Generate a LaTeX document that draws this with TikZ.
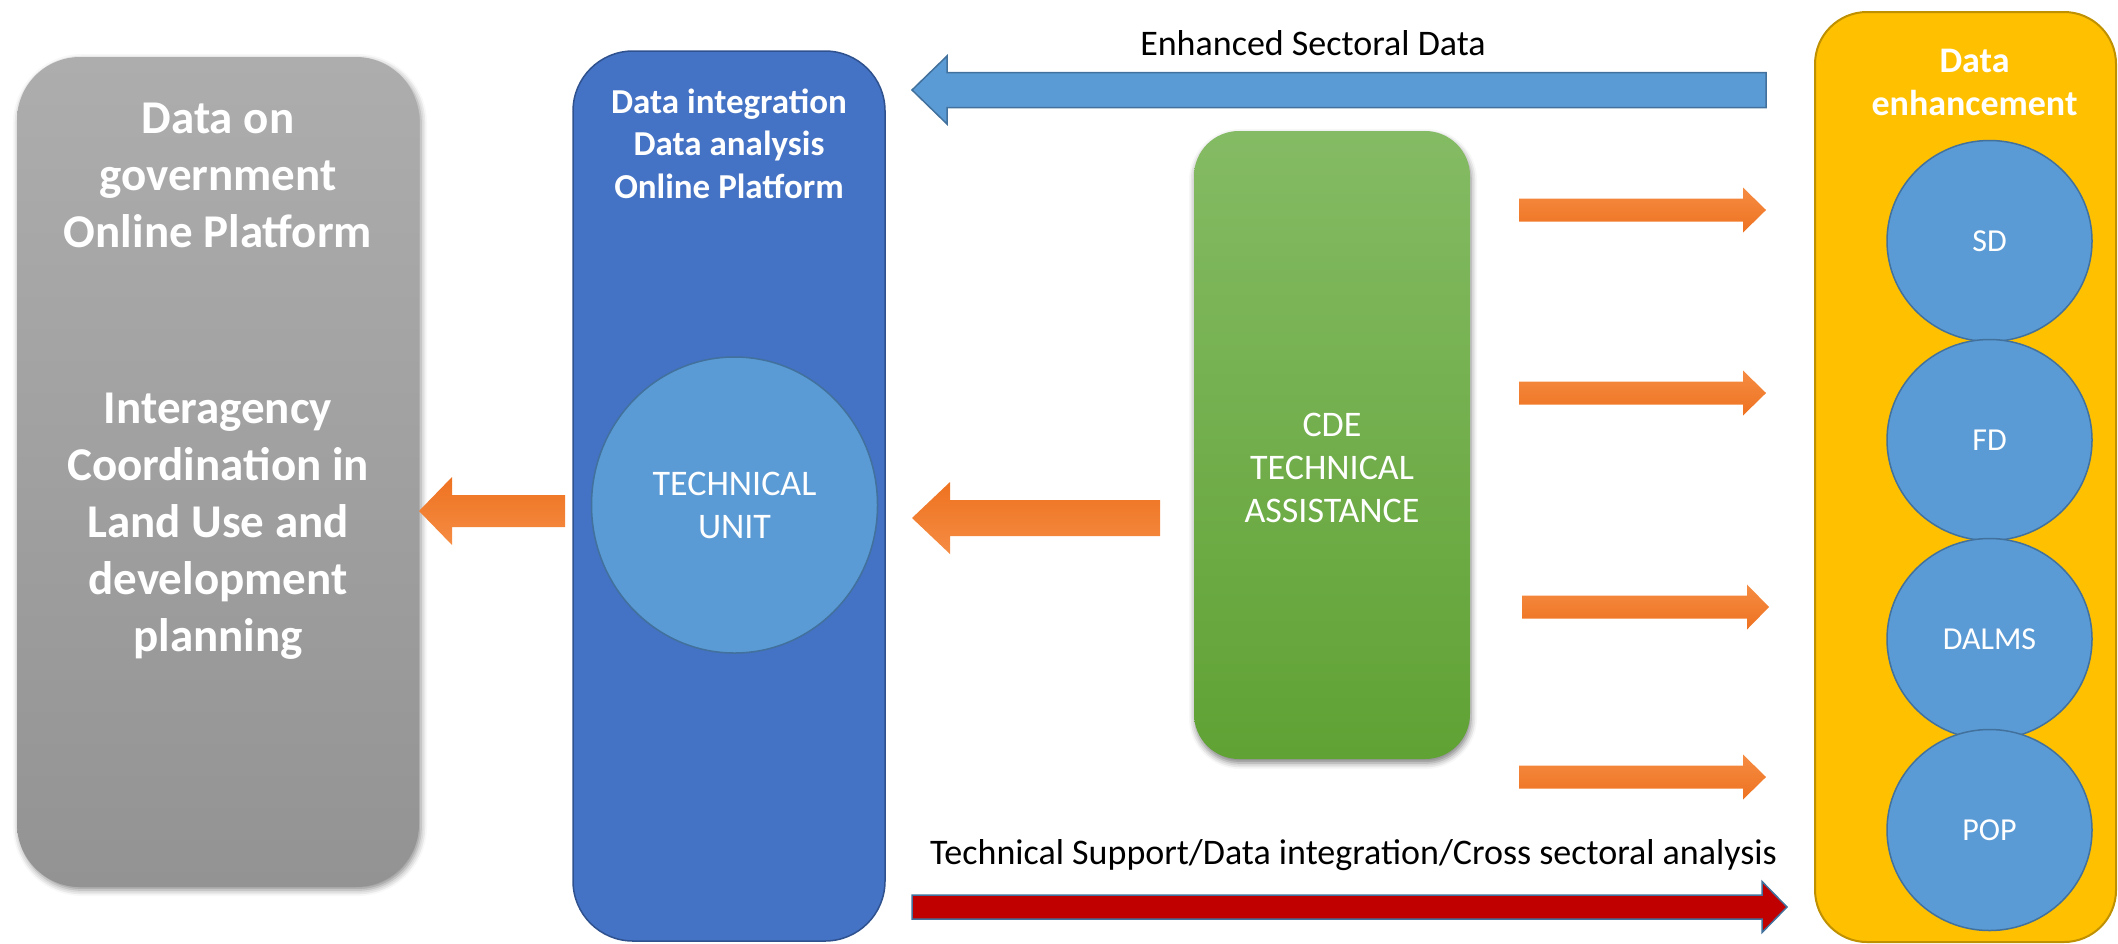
\documentclass[tikz,border=0pt]{standalone}
\usepackage{fontspec}
\setmainfont{Carlito}
\usetikzlibrary{shapes.geometric,shadows.blur}
\definecolor{grayT}{HTML}{ADADAD}
\definecolor{grayB}{HTML}{939393}
\definecolor{boxBlue}{HTML}{4472C4}
\definecolor{boxBlueB}{HTML}{2F528F}
\definecolor{lblue}{HTML}{5B9BD5}
\definecolor{lblueB}{HTML}{41719C}
\definecolor{greenT}{HTML}{84BB64}
\definecolor{greenB}{HTML}{60A234}
\definecolor{gold}{HTML}{FFC000}
\definecolor{goldB}{HTML}{BF9000}
\definecolor{orLight}{HTML}{F58C43}
\definecolor{orDark}{HTML}{EE7220}
\definecolor{darkRed}{HTML}{C00000}
% #1 style, #2 tail x, #3 tip x, #4 head base x, #5 centre y, #6 shaft half, #7 head half
\newcommand\BlkArrow[7]{\path[#1] (#2,#5-#6) -- (#4,#5-#6) -- (#4,#5-#7) -- (#3,#5) -- (#4,#5+#7) -- (#4,#5+#6) -- (#2,#5+#6) -- cycle;}
\begin{document}
\begin{tikzpicture}[x=0.5pt,y=-0.5pt,
  graybox/.style={rectangle, rounded corners=31.5pt, top color=grayT, bottom color=grayB, draw=none,
    blur shadow={shadow xshift=1pt, shadow yshift=-1.5pt, shadow blur radius=3pt, shadow opacity=45}},
  bluebox/.style={rectangle, rounded corners=30pt, fill=boxBlue, draw=boxBlueB, line width=0.75pt},
  greenbox/.style={rectangle, rounded corners=22.5pt, top color=greenT, bottom color=greenB, draw=none,
    blur shadow={shadow xshift=0.5pt, shadow yshift=-2pt, shadow blur radius=3pt, shadow opacity=50}},
  yellowbox/.style={rectangle, rounded corners=26pt, fill=gold, draw=goldB, line width=1pt},
  bubble/.style={ellipse, fill=lblue, draw=lblueB, line width=0.75pt, inner sep=0pt, text=white, align=center},
  wtext/.style={text=white, align=center, inner sep=0pt},
  ktext/.style={text=black, inner sep=0pt, font=\fontsize{18}{21.5}\selectfont},
  rightor/.style={top color=orLight, bottom color=orDark, draw=none},
  leftor/.style={top color=orDark, bottom color=orLight, draw=none},
  bluearr/.style={fill=lblue, draw=lblueB, line width=0.75pt},
  redarr/.style={fill=darkRed, draw=lblueB, line width=0.75pt}]
\useasboundingbox (0,0) rectangle (2118,943);

% left grey panel
\node[graybox, minimum width=201pt, minimum height=415pt] (gov) at (218,472) {};
\node[wtext, font=\bfseries\fontsize{23.5}{28.5}\selectfont] (govA) at (218,175) {Data on\\government\\Online Platform};
\node[wtext, font=\bfseries\fontsize{23.5}{28.5}\selectfont] (govB) at (218,526) {Interagency\\Coordination in\\Land Use and\\development\\planning};

% blue panel
\node[bluebox, minimum width=156pt, minimum height=445pt] (integ) at (729,496) {};
\node[wtext, font=\bfseries\fontsize{17.5}{21.25}\selectfont] (integtxt) at (729,143.5) {Data integration\\Data analysis\\Online Platform};
\node[bubble, minimum width=143pt, minimum height=148pt, font=\fontsize{18}{21.5}\selectfont] (tu) at (734.5,505) {TECHNICAL\\UNIT};

% green panel
\node[greenbox, minimum width=138pt, minimum height=314pt] (cde) at (1332,445) {};
\node[wtext, font=\fontsize{18}{21.5}\selectfont] (cdetxt) at (1332,468) {CDE\\TECHNICAL\\ASSISTANCE};

% yellow panel
\node[yellowbox, minimum width=150.5pt, minimum height=465pt] (enh) at (1965.5,477) {};
\node[wtext, font=\bfseries\fontsize{18}{21.5}\selectfont] (enhtxt) at (1974.5,82.5) {Data\\enhancement};
\node[bubble, minimum width=102.5pt, minimum height=100.5pt, font=\fontsize{16}{19}\selectfont] (sd) at (1989.5,241) {SD};
\node[bubble, minimum width=102.5pt, minimum height=100.5pt, font=\fontsize{16}{19}\selectfont] (fd) at (1989.5,440) {FD};
\node[bubble, minimum width=102.5pt, minimum height=100.5pt, font=\fontsize{16}{19}\selectfont] (dalms) at (1989.5,639) {DALMS};
\node[bubble, minimum width=102.5pt, minimum height=100.5pt, font=\fontsize{16}{19}\selectfont] (pop) at (1989.5,830) {POP};

% block arrows
\BlkArrow{bluearr}{1766}{912}{947}{90}{17.5}{34}
\BlkArrow{leftor}{1160}{912}{950}{518}{18}{36}
\BlkArrow{leftor}{565}{419}{452}{511}{16}{34}
\BlkArrow{rightor}{1519}{1766}{1743}{210}{11.5}{22.5}
\BlkArrow{rightor}{1519}{1766}{1743}{393}{11.5}{22.5}
\BlkArrow{rightor}{1522}{1769}{1747}{607}{11.5}{22.5}
\BlkArrow{rightor}{1519}{1766}{1743}{777}{11.5}{22.5}
\BlkArrow{redarr}{912}{1787}{1762}{907}{12}{25.5}

% arrow labels
\node[ktext, anchor=base] (lblTop) at (1313,55) {Enhanced Sectoral Data};
\node[ktext, anchor=base] (lblBot) at (1353.5,864) {Technical Support/Data integration/Cross sectoral analysis};
\end{tikzpicture}
\end{document}
